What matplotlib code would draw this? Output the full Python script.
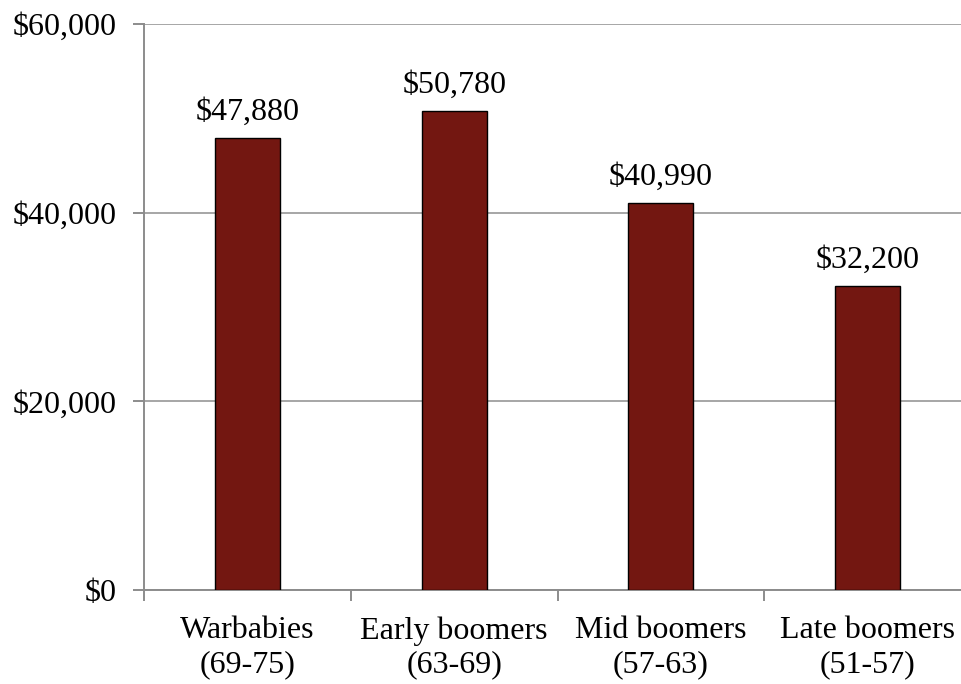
import numpy as np
import matplotlib.pyplot as plt
from matplotlib.ticker import FuncFormatter

# datos
categorias = ["Warbabies\n(69-75)", "Early boomers\n(63-69)", "Mid boomers\n(57-63)", "Late boomers\n(51-57)"]
valores = [47880, 50780, 40990, 32200]
ticksY = [0, 20000, 40000, 60000]

plt.rcParams['font.family'] = ['Liberation Serif', 'DejaVu Serif']

fig = plt.figure(figsize=(9.61, 6.84), dpi=100)
# el eje derecho queda fuera de la imagen, como en el original
ax = fig.add_axes([144/961, 1 - 590/684, (971-144)/961, (590-24)/684])

x = np.arange(len(categorias))
ax.bar(x, valores, width=0.315, color='#731711', edgecolor='black', linewidth=1, zorder=3)

for xi, v in zip(x, valores):
    ax.annotate("${:,}".format(v), (xi, v), xytext=(0, 8), textcoords='offset points',
                ha='center', va='bottom', fontsize=23)

ax.set_xlim(-0.5, len(categorias) - 0.5)
ax.set_ylim(0, 60000)
ax.set_yticks(ticksY)
ax.yaxis.set_major_formatter(FuncFormatter(lambda v, p: "${:,.0f}".format(v)))
ax.grid(axis='y', color='#a6a6a6', linewidth=1.4, zorder=0)

# ticks del eje x en los limites de las categorias
ax.set_xticks(np.arange(len(categorias) + 1) - 0.5)
ax.set_xticklabels([])
ax.set_xticks(x, minor=True)
ax.set_xticklabels(categorias, minor=True, fontsize=23, linespacing=1.2)
ax.tick_params(axis='x', which='minor', length=0, pad=19)
ax.tick_params(axis='x', which='major', length=8, color='#8c8c8c', width=1.4, direction='out')
ax.tick_params(axis='y', length=8, color='#8c8c8c', width=1.4, labelsize=23, pad=12)

for lado in ['top', 'right']:
    ax.spines[lado].set_visible(False)
ax.spines['left'].set_color('#8c8c8c')
ax.spines['bottom'].set_color('#8c8c8c')
ax.spines['left'].set_linewidth(1.4)
ax.spines['bottom'].set_linewidth(1.4)

fig.savefig("out.png", dpi=100, facecolor='white')
